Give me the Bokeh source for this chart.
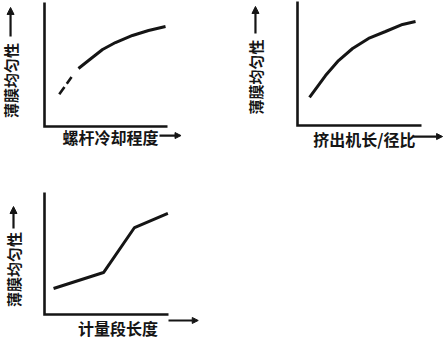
from bokeh.plotting import figure
from bokeh.layouts import column, row
from bokeh.models import Range1d, Label, Arrow, NormalHead
from bokeh.embed import file_html
from bokeh.resources import INLINE

# Film uniformity vs. screw cooling degree (dashed = extrapolated start)
cool_dash_x = [1.2, 2.2]
cool_dash_y = [2.6, 4.0]
cool_x = [2.76, 3.58, 4.72, 5.77, 7.15, 8.46, 9.84]
cool_y = [4.68, 5.32, 6.21, 6.77, 7.34, 7.74, 8.06]

# Film uniformity vs. extruder L/D ratio
ld_x = [0.97, 2.26, 3.31, 4.44, 5.73, 7.10, 8.47, 9.52]
ld_y = [2.26, 4.03, 5.24, 6.21, 7.02, 7.58, 8.15, 8.39]

# Film uniformity vs. metering section length
meter_x = [0.73, 4.76, 7.26, 9.95]
meter_y = [2.13, 3.44, 7.13, 8.28]

y_title = "薄膜均匀性"
x_titles = ["螺杆冷却程度", "挤出机长/径比", "计量段长度"]

FONT = "Noto Sans CJK SC"
INK = "#151515"
W, H = 222, 170


def panel(box):
    # box = pixel position of the plotting area (left, right, top, bottom);
    # the data area always spans 0..10 on both axes
    left, right, top, bottom = box
    ux = 10.0 / (right - left)
    uy = 10.0 / (bottom - top)
    p = figure(width=W, height=H, output_backend="svg", toolbar_location=None,
               x_axis_location=None, y_axis_location=None,
               x_range=Range1d(-left * ux, 10 + (W - right) * ux),
               y_range=Range1d(-(H - bottom) * uy, 10 + top * uy),
               min_border=0)
    p.outline_line_color = None
    p.grid.visible = False
    p.background_fill_color = "white"
    p.border_fill_color = "white"
    # the two axis lines
    p.line([0, 0, 10], [10, 0, 0], line_width=2.6, line_color=INK, line_join="miter")
    return p


def ytitle(p, x, y, a0, a1):
    p.add_layout(Label(x=x, y=y, text=y_title, angle=1.5708, text_align="center",
                       text_baseline="middle", text_font=FONT, text_font_style="bold",
                       text_font_size="15px", text_color=INK))
    p.add_layout(Arrow(x_start=x, y_start=a0, x_end=x, y_end=a1, line_width=2.2,
                       line_color=INK,
                       end=NormalHead(size=7, fill_color=INK, line_color=INK)))


def xtitle(p, text, x, y, ax0, ax1, ay):
    p.add_layout(Label(x=x, y=y, text=text, text_align="center",
                       text_baseline="middle", text_font=FONT, text_font_style="bold",
                       text_font_size="16px", text_color=INK))
    p.add_layout(Arrow(x_start=ax0, y_start=ay, x_end=ax1, y_end=ay, line_width=2.2,
                       line_color=INK,
                       end=NormalHead(size=6, fill_color=INK, line_color=INK)))


# panel 1
p1 = panel((44, 167, 2, 126))
p1.line(cool_dash_x, cool_dash_y, line_width=2.6, line_color=INK, line_dash="9 4")
p1.line(cool_x, cool_y, line_width=3, line_color=INK)
ytitle(p1, -2.76, 3.71, 7.26, 9.6)
xtitle(p1, x_titles[0], 5.37, -0.81, 9.35, 11.1, -0.73)

# panel 2
p2 = panel((75, 199, 1, 125))
p2.line(ld_x, ld_y, line_width=3, line_color=INK)
ytitle(p2, -3.39, 3.91, 7.42, 9.6)
xtitle(p2, x_titles[1], 5.40, -1.05, 9.35, 11.7, -0.89)

# panel 3
p3 = panel((44, 168, 22, 144))
p3.line(meter_x, meter_y, line_width=3, line_color=INK)
ytitle(p3, -2.5, 3.69, 7.05, 8.85)
xtitle(p3, x_titles[2], 5.93, -1.07, 10.0, 12.4, -0.49)

layout = column(row(p1, p2), p3)
open("out.html", "w").write(file_html(layout, INLINE))
